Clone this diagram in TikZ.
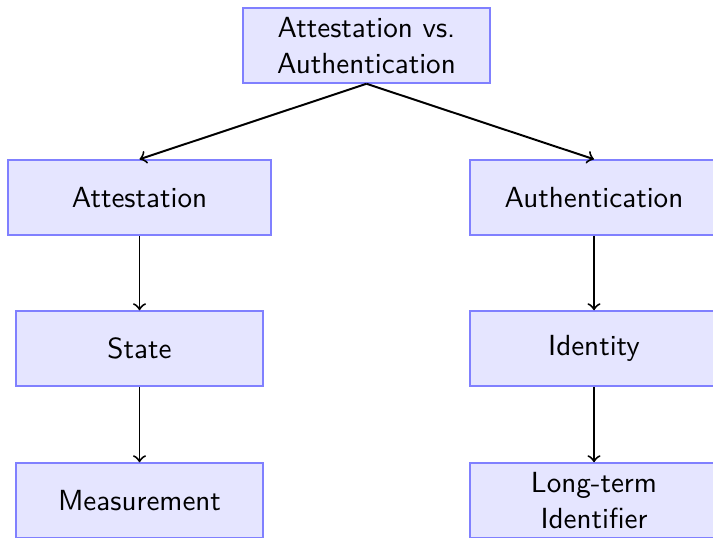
\documentclass[tikz,border=0pt]{standalone}
\usetikzlibrary{arrows}
\begin{document}
\begin{tikzpicture}[x=0.33pt,y=-0.33pt,
  box/.style={draw=blue!50, fill=blue!10, line width=0.5pt, inner sep=0pt,
    minimum width=#1*0.33pt, minimum height=75*0.33pt, align=center,
    font=\sffamily\fontsize{9.6}{11.7}\selectfont},
  box/.default=247,
  conn/.style={->, line width=0.65pt, black}]
\useasboundingbox (0,0) rectangle (713,537);
\node[box] (top) at (366.5,45.5) {Attestation vs.\\Authentication};
\node[box=263] (att) at (139.5,197.5) {Attestation};
\node[box=248] (auth) at (594,197.5) {Authentication};
\node[box] (state) at (139.5,348.5) {State};
\node[box=248] (ident) at (594,348.5) {Identity};
\node[box] (meas) at (139.5,500.5) {Measurement};
\node[box=248] (long) at (594,500.5) {Long-term\\Identifier};
\draw[conn] (top.south) -- (att.north);
\draw[conn] (top.south) -- (auth.north);
\draw[conn] (att) -- (state);
\draw[conn] (state) -- (meas);
\draw[conn] (auth) -- (ident);
\draw[conn] (ident) -- (long);
\end{tikzpicture}
\end{document}
